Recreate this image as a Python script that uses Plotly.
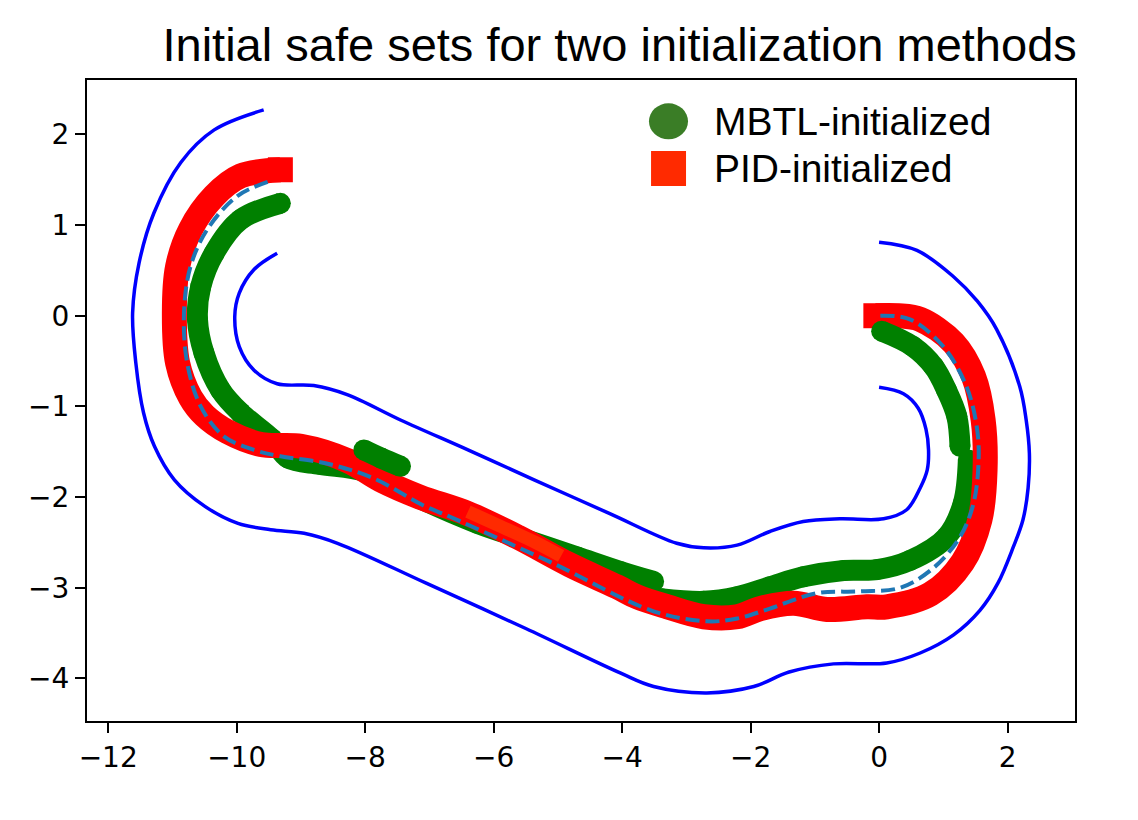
import plotly.graph_objects as go

# ---------------- data ----------------
outer_x = [-9.58, -10.35, -10.87, -11.29, -11.52, -11.62, -11.57, -11.45, -11.28, -10.97, -10.50, -9.98,
           -9.47, -8.95, -8.43, -7.05, -5.50, -4.03, -3.51, -2.68, -1.95, -1.40, -0.71, 0.12, 0.64, 1.16,
           1.57, 1.85, 2.09, 2.24, 2.32, 2.34, 2.29, 2.19, 1.83, 1.53, 1.16, 0.59, 0.0]
outer_y = [2.27, 2.05, 1.69, 1.13, 0.58, 0.03, -0.52, -1.07, -1.44, -1.81, -2.10, -2.29,
           -2.36, -2.40, -2.51, -2.95, -3.45, -3.94, -4.09, -4.16, -4.09, -3.93, -3.84, -3.83, -3.72, -3.52,
           -3.25, -2.95, -2.55, -2.25, -1.90, -1.52, -1.15, -0.78, -0.15, 0.16, 0.43, 0.72, 0.81]

inner_x = [-9.37, -9.73, -9.96, -10.03, -9.96, -9.73, -9.37, -8.80, -8.28, -7.45, -6.40, -5.37, -4.20,
           -3.15, -2.73, -2.21, -1.70, -1.18, -0.61, 0.07, 0.43, 0.64, 0.75, 0.77, 0.73, 0.61, 0.38, 0.0]
inner_y = [0.69, 0.51, 0.25, -0.01, -0.34, -0.60, -0.75, -0.77, -0.87, -1.15, -1.48, -1.81, -2.18,
           -2.51, -2.56, -2.53, -2.38, -2.27, -2.24, -2.24, -2.14, -1.90, -1.70, -1.48, -1.25, -1.02, -0.86, -0.79]

center_x = [0.02, 0.48, 1.00, 1.36, 1.52, 1.55, 1.47, 1.26, 0.85, 0.33, -0.30, -0.97, -1.70, -2.21,
            -2.68, -3.51, -5.08, -6.67, -7.10, -7.88, -8.60, -9.32, -9.73, -10.20, -10.56, -10.77,
            -10.82, -10.72, -10.46, -9.99, -9.50]
center_y = [0.0, -0.04, -0.34, -0.78, -1.22, -1.59, -2.07, -2.44, -2.78, -3.00, -3.04, -3.06, -3.23, -3.34,
            -3.37, -3.26, -2.73, -2.22, -2.09, -1.79, -1.63, -1.55, -1.48, -1.33, -1.00, -0.52,
            0.03, 0.54, 0.95, 1.32, 1.48]

pid_x = [-0.05, 0.30, 0.64, 1.16, 1.47, 1.62, 1.65, 1.57, 1.30, 0.80, 0.12, -0.19, -0.81, -1.33, -1.85,
         -2.21, -2.73, -3.30, -3.77, -4.08, -4.81, -5.63, -6.41, -7.15, -7.76, -8.27, -9.00, -9.62,
         -10.14, -10.50, -10.72, -10.92, -10.97, -10.92, -10.72, -10.35, -9.94, -9.32]
pid_y = [0.0, 0.0, -0.04, -0.30, -0.67, -1.15, -1.70, -2.25, -2.72, -3.07, -3.21, -3.21, -3.24, -3.17, -3.23,
         -3.32, -3.32, -3.21, -3.10, -2.99, -2.75, -2.44, -2.18, -2.00, -1.81, -1.60, -1.44, -1.42,
         -1.28, -1.10, -0.90, -0.52, 0.03, 0.54, 0.95, 1.32, 1.54, 1.61]

pid_light_x = [-6.40, -5.90, -5.35, -4.95]
pid_light_y = [-2.16, -2.32, -2.50, -2.65]

mbtl_a_x = [1.39, 1.31, 1.05, 0.48, -0.03, -0.55, -1.18, -1.70, -2.21, -2.73, -3.40]
mbtl_a_y = [-1.59, -2.07, -2.44, -2.70, -2.80, -2.81, -2.88, -2.99, -3.10, -3.15, -3.12]

mbtl_b_x = [-3.51, -4.03, -4.70, -5.50, -6.25, -7.20, -8.00, -8.70, -9.20, -9.45, -9.94, -10.25, -10.51,
            -10.61, -10.56, -10.35, -9.94, -9.32]
mbtl_b_y = [-2.93, -2.82, -2.66, -2.47, -2.29, -2.00, -1.72, -1.64, -1.57, -1.36, -1.07, -0.82, -0.41,
            -0.04, 0.32, 0.69, 1.06, 1.24]

mbtl_top_x = [0.04, 0.53, 0.85, 1.05, 1.21, 1.26]
mbtl_top_y = [-0.17, -0.34, -0.56, -0.82, -1.11, -1.44]

mbtl_short_x = [-8.02, -7.75, -7.45]
mbtl_short_y = [-1.48, -1.57, -1.66]

x_ticks = [-12, -10, -8, -6, -4, -2, 0, 2]
y_ticks = [-4, -3, -2, -1, 0, 1, 2]

legend_labels = ["MBTL-initialized", "PID-initialized"]
title_text = "Initial safe sets for two initialization methods"

# ---------------- styles ----------------
GREEN = "#008000"
RED = "#ff0000"
fig = go.Figure()


def green_band(x, y):
    fig.add_trace(go.Scatter(
        x=x, y=y, mode="lines+markers",
        line=dict(color=GREEN, width=21, shape="spline"),
        marker=dict(color=GREEN, size=21, symbol="circle", line=dict(width=0)),
        showlegend=False, hoverinfo="skip"))


green_band(mbtl_a_x, mbtl_a_y)
green_band(mbtl_b_x, mbtl_b_y)

# PID band: thick line with square markers at its two ends
fig.add_trace(go.Scatter(x=pid_x, y=pid_y, mode="lines",
                         line=dict(color=RED, width=25, shape="spline"),
                         showlegend=False, hoverinfo="skip"))
fig.add_trace(go.Scatter(x=[pid_x[0], pid_x[-1]], y=[pid_y[0], pid_y[-1]], mode="markers",
                         marker=dict(color=RED, size=25, symbol="square", line=dict(width=0)),
                         showlegend=False, hoverinfo="skip"))
fig.add_trace(go.Scatter(x=pid_light_x, y=pid_light_y, mode="lines",
                         line=dict(color="#ff2a00", width=13, shape="spline"),
                         showlegend=False, hoverinfo="skip"))

green_band(mbtl_top_x, mbtl_top_y)
green_band(mbtl_short_x, mbtl_short_y)

fig.add_trace(go.Scatter(x=center_x, y=center_y, mode="lines",
                         line=dict(color="#1f77b4", width=4, dash="14px,6px", shape="spline"),
                         showlegend=False, hoverinfo="skip"))
for bx, by in ((outer_x, outer_y), (inner_x, inner_y)):
    fig.add_trace(go.Scatter(x=bx, y=by, mode="lines",
                             line=dict(color="#0000ff", width=3.5, shape="spline"),
                             showlegend=False, hoverinfo="skip"))

# ---------------- manual legend (large symbols) ----------------
fig.add_shape(type="circle", xref="paper", yref="paper",
              x0=0.5688, x1=0.6083, y0=0.9075, y1=0.9636,
              fillcolor="#3a7d26", line=dict(width=0))
fig.add_shape(type="rect", xref="paper", yref="paper",
              x0=0.5709, x1=0.6063, y0=0.8346, y1=0.8892,
              fillcolor="#ff2a00", line=dict(width=0))
for lab, ly in zip(legend_labels, [0.9345, 0.8627]):
    fig.add_annotation(text=lab, xref="paper", yref="paper", x=0.6326, y=ly,
                       xanchor="left", yanchor="middle", showarrow=False,
                       font=dict(family="Liberation Sans, Arial", size=39, color="black"))

axis_common = dict(showline=True, linecolor="black", linewidth=2, mirror=True,
                   ticks="outside", ticklen=10, tickwidth=1.5, tickcolor="black",
                   showgrid=False, zeroline=False,
                   tickfont=dict(family="DejaVu Sans", size=28, color="black"))

fig.update_layout(
    width=1138, height=820,
    margin=dict(l=87, r=63, t=80, b=99),
    paper_bgcolor="white", plot_bgcolor="white",
    showlegend=False,
    title=dict(text=title_text, x=0.5445, xref="container", xanchor="center",
               y=1 - 45 / 820, yref="container", yanchor="middle",
               font=dict(family="Liberation Sans, Arial", size=47, color="black")),
    xaxis=dict(range=[-12.33, 3.05], tickvals=x_ticks, **axis_common),
    yaxis=dict(range=[-4.47, 2.60], tickvals=y_ticks, **axis_common),
)

fig.write_html("out.html")
